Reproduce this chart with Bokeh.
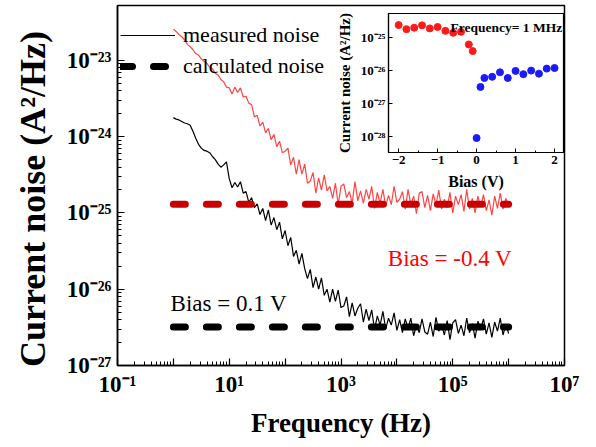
from bokeh.plotting import figure
from bokeh.models import (Range1d, Legend, LegendItem, Label, FixedTicker,
                          CustomJSTickFormatter)
from bokeh.layouts import column
from bokeh.embed import file_html
from bokeh.resources import INLINE

# ---------------- data ----------------
# log10 of frequency (Hz) for the measured spectra
freq_exp = [
    0.00, 0.05, 0.10, 0.15, 0.20, 0.25, 0.30, 0.35, 0.40, 0.45,
    0.50, 0.55, 0.60, 0.65, 0.70, 0.75, 0.80, 0.85, 0.90, 0.95,
    1.00, 1.05, 1.10, 1.15, 1.20, 1.25, 1.30, 1.35, 1.40, 1.45,
    1.50, 1.55, 1.60, 1.65, 1.70, 1.75, 1.80, 1.85, 1.90, 1.95,
    2.00, 2.05, 2.10, 2.15, 2.20, 2.25, 2.30, 2.35, 2.40, 2.45,
    2.50, 2.55, 2.60, 2.65, 2.70, 2.75, 2.80, 2.85, 2.90, 2.95,
    3.00, 3.05, 3.10, 3.15, 3.20, 3.25, 3.30, 3.35, 3.40, 3.45,
    3.50, 3.55, 3.60, 3.65, 3.70, 3.75, 3.80, 3.85, 3.90, 3.95,
    4.00, 4.05, 4.10, 4.15, 4.20, 4.25, 4.30, 4.35, 4.40, 4.45,
    4.50, 4.55, 4.60, 4.65, 4.70, 4.75, 4.80, 4.85, 4.90, 4.95,
    5.00, 5.05, 5.10, 5.15, 5.20, 5.25, 5.30, 5.35, 5.40, 5.45,
    5.50, 5.55, 5.60, 5.65, 5.70, 5.75, 5.80, 5.85, 5.90, 5.95,
    6.00,
]
# log10 of measured current noise (A^2/Hz), bias = -0.4 V (red)
red_measured_log = [
    -22.59, -22.62, -22.66, -22.69, -22.73, -22.79, -22.82, -22.86, -22.91, -22.93,
    -22.98, -23.01, -23.04, -23.09, -23.11, -23.17, -23.19, -23.25, -23.28, -23.35,
    -23.36, -23.44, -23.35, -23.42, -23.36, -23.48, -23.47, -23.56, -23.58, -23.74,
    -23.72, -23.86, -23.81, -23.95, -23.89, -24.04, -23.97, -24.13, -24.06, -24.21,
    -24.19, -24.15, -24.37, -24.27, -24.49, -24.30, -24.49, -24.36, -24.61, -24.58,
    -24.47, -24.74, -24.54, -24.70, -24.50, -24.71, -24.65, -24.81, -24.61, -24.89,
    -24.65, -24.62, -24.80, -24.72, -24.87, -24.59, -24.84, -24.71, -24.87, -24.69,
    -24.82, -24.65, -24.94, -24.73, -24.87, -24.69, -24.91, -24.77, -24.89, -24.65,
    -24.86, -24.82, -24.72, -24.95, -24.69, -24.89, -24.78, -25.01, -24.74, -24.72,
    -24.93, -24.77, -24.97, -24.75, -24.89, -24.70, -24.95, -24.82, -24.93, -24.73,
    -25.00, -24.78, -24.89, -24.76, -24.98, -24.69, -24.95, -24.81, -25.00, -24.78,
    -24.92, -24.76, -24.97, -24.83, -25.03, -24.78, -24.94, -24.74, -24.95, -24.81,
    -24.90,
]
# log10 of measured current noise (A^2/Hz), bias = 0.1 V (black)
black_measured_log = [
    -23.75, -23.77, -23.78, -23.80, -23.82, -23.83, -23.85, -23.93, -24.02, -24.10,
    -24.15, -24.18, -24.19, -24.21, -24.26, -24.30, -24.36, -24.40, -24.37, -24.33,
    -24.55, -24.67, -24.60, -24.66, -24.59, -24.74, -24.72, -24.86, -24.80, -24.93,
    -24.88, -25.02, -24.94, -25.10, -24.96, -25.16, -25.06, -25.22, -25.12, -25.34,
    -25.23, -25.43, -25.32, -25.57, -25.49, -25.67, -25.53, -25.73, -25.86, -25.74,
    -25.98, -25.84, -26.00, -25.85, -26.08, -26.00, -26.17, -26.00, -26.16, -26.01,
    -26.24, -26.22, -26.10, -26.36, -26.18, -26.35, -26.25, -26.19, -26.43, -26.26,
    -26.41, -26.27, -26.53, -26.35, -26.47, -26.29, -26.52, -26.38, -26.47, -26.31,
    -26.54, -26.40, -26.57, -26.39, -26.51, -26.38, -26.61, -26.47, -26.57, -26.39,
    -26.56, -26.59, -26.43, -26.62, -26.37, -26.55, -26.46, -26.60, -26.41, -26.66,
    -26.44, -26.40, -26.58, -26.47, -26.61, -26.38, -26.57, -26.45, -26.64, -26.42,
    -26.52, -26.39, -26.59, -26.44, -26.63, -26.43, -26.55, -26.38, -26.60, -26.46,
    -26.58,
]
# calculated noise levels (A^2/Hz) over 1 Hz .. 1 MHz
calc_freq = [1.0, 1.0e6]
red_calc_level = [1.3e-25, 1.3e-25]
black_calc_level = [3.2e-27, 3.2e-27]

# inset: current noise at 1 MHz versus bias
neg_bias = [-2.0, -1.8, -1.6, -1.4, -1.2, -1.0, -0.8, -0.6, -0.4, -0.2, -0.1]
neg_noise = [2.4e-25, 1.8e-25, 2.0e-25, 2.35e-25, 1.9e-25, 2.1e-25, 1.6e-25,
             1.4e-25, 1.5e-25, 6.2e-26, 3.9e-26]
pos_bias = [0.0, 0.1, 0.2, 0.4, 0.6, 0.8, 1.0, 1.2, 1.4, 1.6, 1.8, 2.0]
pos_noise = [9.1e-29, 3.2e-27, 6.0e-27, 6.5e-27, 8.9e-27, 6.0e-27, 9.8e-27,
             7.8e-27, 1.0e-26, 8.1e-27, 1.15e-26, 1.2e-26]

main_x_ticks = [1e-1, 1e0, 1e1, 1e2, 1e3, 1e4, 1e5, 1e6, 1e7]
main_y_ticks = [1e-27, 1e-26, 1e-25, 1e-24, 1e-23]
inset_x_ticks = [-2, -1, 0, 1, 2]
inset_y_ticks = [1e-28, 1e-27, 1e-26, 1e-25]

freq = [10 ** e for e in freq_exp]
red_measured = [10 ** v for v in red_measured_log]
black_measured = [10 ** v for v in black_measured_log]

SERIF = "Liberation Serif"

SUP_JS = """
const s = {"-":"\u207b","0":"\u2070","1":"\u00b9","2":"\u00b2","3":"\u00b3",
           "4":"\u2074","5":"\u2075","6":"\u2076","7":"\u2077","8":"\u2078","9":"\u2079"};
const e = Math.round(Math.log10(tick));
if (SKIP && Math.abs(e) % 2 == 0) { return ""; }
return "10" + String(e).split("").map(c => s[c]).join("");
"""


def sup_formatter(skip_even):
    return CustomJSTickFormatter(code=SUP_JS.replace("SKIP", "true" if skip_even else "false"))


def minor_log(ticks):
    out = []
    for t in ticks[:-1]:
        out += [t * k for k in range(2, 10)]
    return out


BORDER_L = 117
BORDER_R = 26

# ---------------- main figure ----------------
p = figure(frame_width=447, frame_height=360,
           x_axis_type="log", y_axis_type="log",
           x_range=Range1d(1e-1, 1e7), y_range=Range1d(1e-27, 10 ** -22.28),
           min_border_left=BORDER_L, min_border_right=BORDER_R, min_border_top=5,
           min_border_bottom=75,
           output_backend="svg", toolbar_location=None)
p.xgrid.visible = False
p.ygrid.visible = False
p.outline_line_color = "black"
p.outline_line_width = 1.5
p.outline_line_alpha = 1.0
p.background_fill_color = "white"
p.border_fill_color = "white"

p.xaxis.ticker = FixedTicker(ticks=main_x_ticks, minor_ticks=minor_log(main_x_ticks))
p.yaxis.ticker = FixedTicker(ticks=main_y_ticks, minor_ticks=minor_log(main_y_ticks))
p.xaxis.formatter = sup_formatter(True)
p.yaxis.formatter = sup_formatter(False)
for ax in (p.xaxis[0], p.yaxis[0]):
    ax.axis_line_width = 1.5
    ax.major_tick_in = 7
    ax.major_tick_out = 0
    ax.minor_tick_in = 4
    ax.minor_tick_out = 0
    ax.major_tick_line_width = 1.2
    ax.minor_tick_line_width = 1
    ax.major_label_text_font = SERIF
    ax.major_label_text_font_style = "bold"
    ax.major_label_text_font_size = "23px"
    ax.major_label_text_color = "black"
    ax.axis_label_text_font = SERIF
    ax.axis_label_text_font_style = "bold"
    ax.axis_label_text_color = "black"
p.xaxis.axis_label = "Frequency (Hz)"
p.xaxis.axis_label_text_font_size = "27px"
p.xaxis.major_label_standoff = 6
p.xaxis.axis_label_standoff = 8
p.yaxis.axis_label = "Current noise (A\u00b2/Hz)\u00a0\u00a0\u00a0"
p.yaxis.axis_label_text_font_size = "36px"
p.yaxis.major_label_standoff = 6
p.yaxis.axis_label_standoff = 11

r_red = p.line(freq, red_measured, line_color="#FF4545", line_width=1.2)
r_black = p.line(freq, black_measured, line_color="black", line_width=1.2)
r_red_calc = p.line(calc_freq, red_calc_level, line_color="#C80000", line_width=7,
                    line_dash="12 21", line_cap="round")
r_black_calc = p.line(calc_freq, black_calc_level, line_color="black", line_width=7,
                      line_dash="12 21", line_cap="round")

legend = Legend(items=[LegendItem(label="measured noise", renderers=[r_black]),
                       LegendItem(label="calculated noise", renderers=[r_black_calc])],
                location=(3, 286), orientation="vertical",
                glyph_width=55, glyph_height=22, label_standoff=8, spacing=5,
                padding=0, margin=0,
                label_text_font=SERIF, label_text_font_size="22px",
                label_text_color="black",
                border_line_alpha=0, background_fill_alpha=0)
p.add_layout(legend)

p.add_layout(Label(x=6.9e3, y=2.5e-26, text="Bias = -0.4 V", text_color="#FF0000",
                   text_font=SERIF, text_font_size="23px", text_baseline="alphabetic"))
p.add_layout(Label(x=0.89, y=6.5e-27, text="Bias = 0.1 V", text_color="black",
                   text_font=SERIF, text_font_size="23px", text_baseline="alphabetic"))

# ---------------- inset figure ----------------
inset = figure(frame_width=175, frame_height=139, y_axis_type="log",
               x_range=Range1d(-2.26, 2.23), y_range=Range1d(10 ** -28.48, 10 ** -24.27),
               min_border_left=BORDER_L, min_border_right=BORDER_R, min_border_top=13,
               min_border_bottom=45,
               output_backend="svg", toolbar_location=None)
inset.xgrid.visible = False
inset.ygrid.visible = False
inset.outline_line_color = "black"
inset.outline_line_width = 1.2
inset.outline_line_alpha = 1.0
inset.background_fill_color = "white"
inset.border_fill_alpha = 0.0
inset.xaxis.ticker = FixedTicker(ticks=inset_x_ticks, minor_ticks=[-1.5, -0.5, 0.5, 1.5])
inset.yaxis.ticker = FixedTicker(ticks=inset_y_ticks)
inset.yaxis.formatter = sup_formatter(False)
for ax in (inset.xaxis[0], inset.yaxis[0]):
    ax.axis_line_width = 1.2
    ax.major_tick_in = 4
    ax.major_tick_out = 0
    ax.minor_tick_in = 2
    ax.minor_tick_out = 0
    ax.major_label_text_font = SERIF
    ax.major_label_text_font_style = "bold"
    ax.major_label_text_font_size = "13px"
    ax.major_label_text_color = "black"
    ax.major_label_standoff = 3
    ax.axis_label_text_font = SERIF
    ax.axis_label_text_font_style = "bold"
    ax.axis_label_text_color = "black"
inset.xaxis.axis_label = "Bias (V)"
inset.xaxis.axis_label_text_font_size = "16px"
inset.xaxis.axis_label_standoff = 6
inset.yaxis.axis_label = "Current noise (A\u00b2/Hz)"
inset.yaxis.axis_label_text_font_size = "15px"
inset.yaxis.axis_label_standoff = 5

inset.scatter(neg_bias, neg_noise, size=7, color="#FF1A1A")
inset.scatter(pos_bias, pos_noise, size=7, color="#1A1AFF")
inset.add_layout(Label(x=-0.67, y=2.0e-25, text="Frequency= 1 MHz", text_color="black",
                       text_font=SERIF, text_font_style="bold", text_font_size="13.5px",
                       text_baseline="alphabetic"))
# inset frame left edge sits at 271 + 117 = 388 px on the page
inset.styles = {"position": "absolute", "left": "271px", "top": "0px"}

root = column(p, inset, spacing=0)
root.styles = {"position": "relative"}

open("out.html", "w").write(file_html(root, INLINE))
